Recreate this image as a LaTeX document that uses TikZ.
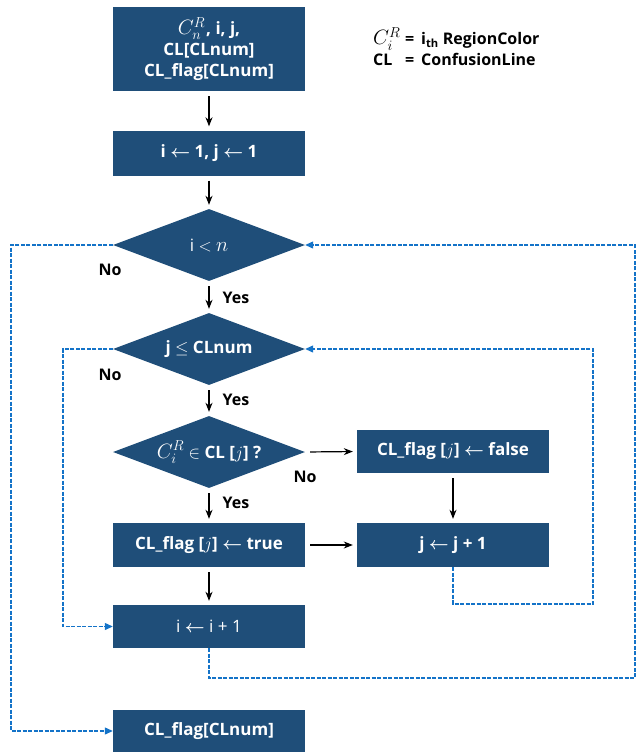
\documentclass[tikz,border=0pt]{standalone}
\usepackage{fontspec}
\setmainfont{Open Sans}
\usetikzlibrary{shapes.geometric,arrows.meta}
\definecolor{boxblue}{RGB}{31,78,121}
\definecolor{dashblue}{RGB}{20,115,200}
\newcommand{\larr}{{\boldmath$\leftarrow$}}
\newcommand{\bigmath}[1]{{\fontsize{20}{21}\selectfont$#1$}}
\begin{document}
\begin{tikzpicture}[x=1pt,y=-1pt,
 box/.style={rectangle, fill=boxblue, text=white, minimum width=192pt, minimum height=44pt, inner sep=0pt, font=\fontsize{17}{21}\selectfont\bfseries, align=center},
 dec/.style={diamond, fill=boxblue, text=white, minimum width=192pt, minimum height=72pt, inner sep=0pt, aspect=2.67, font=\fontsize{17}{20}\selectfont\bfseries},
 flow/.style={-{Stealth[length=9pt,width=7pt]}, line width=1.2pt, black, shorten <=5pt, shorten >=4pt},
 loopline/.style={-{Triangle[length=8pt,width=7pt]}, dashblue, line width=1.2pt, dash pattern=on 4pt off 1.5pt},
 lab/.style={font=\fontsize{16}{18}\selectfont\bfseries, text=black},
 legendtext/.style={anchor=base west, inner sep=0pt, font=\fontsize{16}{20}\selectfont\bfseries}]
\useasboundingbox (0,0) rectangle (636,752);
\node[box, minimum height=84pt] (init) at (209,49) {\bigmath{C^R_n}\kern1pt, i, j,\\CL[CLnum]\\CL\_flag[CLnum]};
\node[box, minimum height=45pt] (setij) at (209,153) {i \larr{} 1, j \larr{} 1};
\node[dec, font=\fontsize{17}{20}\selectfont] (d1) at (209,245) {i $<$ \bigmath{n}};
\node[dec] (d2) at (209,349) {j $\leq$ CLnum};
\node[dec] (d3) at (209,452) {\bigmath{C^R_i} $\in$ CL [$j$] ?};
\node[box, minimum height=43pt] (fls) at (453,451.5) {CL\_flag [$j$] \larr{} false};
\node[box] (tru) at (209,545) {CL\_flag [$j$] \larr{} true};
\node[box] (jinc) at (453,545) {j \larr{} j + 1};
\node[box, minimum height=43pt, font=\fontsize{17}{20}\selectfont] (iinc) at (209,626.5) {i \larr{} i + 1};
\node[box, minimum height=42pt] (out) at (209,731) {CL\_flag[CLnum]};
\node[legendtext] (leg1) at (373,45) {\makebox[32pt][l]{\bigmath{C^R_i}}=\ \,i\textsubscript{th} RegionColor};
\node[legendtext] (leg2) at (373,66) {\makebox[32pt][l]{CL}=\ \,ConfusionLine};
\draw[flow] (init) -- (setij);
\draw[flow] (setij) -- (d1);
\draw[flow] (d1) -- (d2);
\draw[flow] (d2) -- (d3);
\draw[flow] (d3) -- (tru);
\draw[flow] (d3.east) -- (fls.west);
\draw[flow] (fls) -- (jinc);
\draw[flow] (tru) -- (jinc);
\draw[flow] (tru) -- (iinc);
\node[lab] (no1) at (110,270) {No};
\node[lab] (yes1) at (236,298) {Yes};
\node[lab] (no2) at (110,375) {No};
\node[lab] (yes2) at (236,400) {Yes};
\node[lab] (no3) at (305,477) {No};
\node[lab] (yes3) at (236,503) {Yes};
\coordinate (L1) at (11,245);
\coordinate (L2) at (63,349);
\coordinate (R2) at (593,604);
\coordinate (R1) at (635,678);
\draw[loopline] (d1.west) -- (L1) |- (out.west);
\draw[loopline] (d2.west) -- (L2) |- (iinc.west);
\draw[loopline] (jinc.south) |- (R2) |- (d2.east);
\draw[loopline] (iinc.south) |- (R1) |- (d1.east);
\end{tikzpicture}
\end{document}
